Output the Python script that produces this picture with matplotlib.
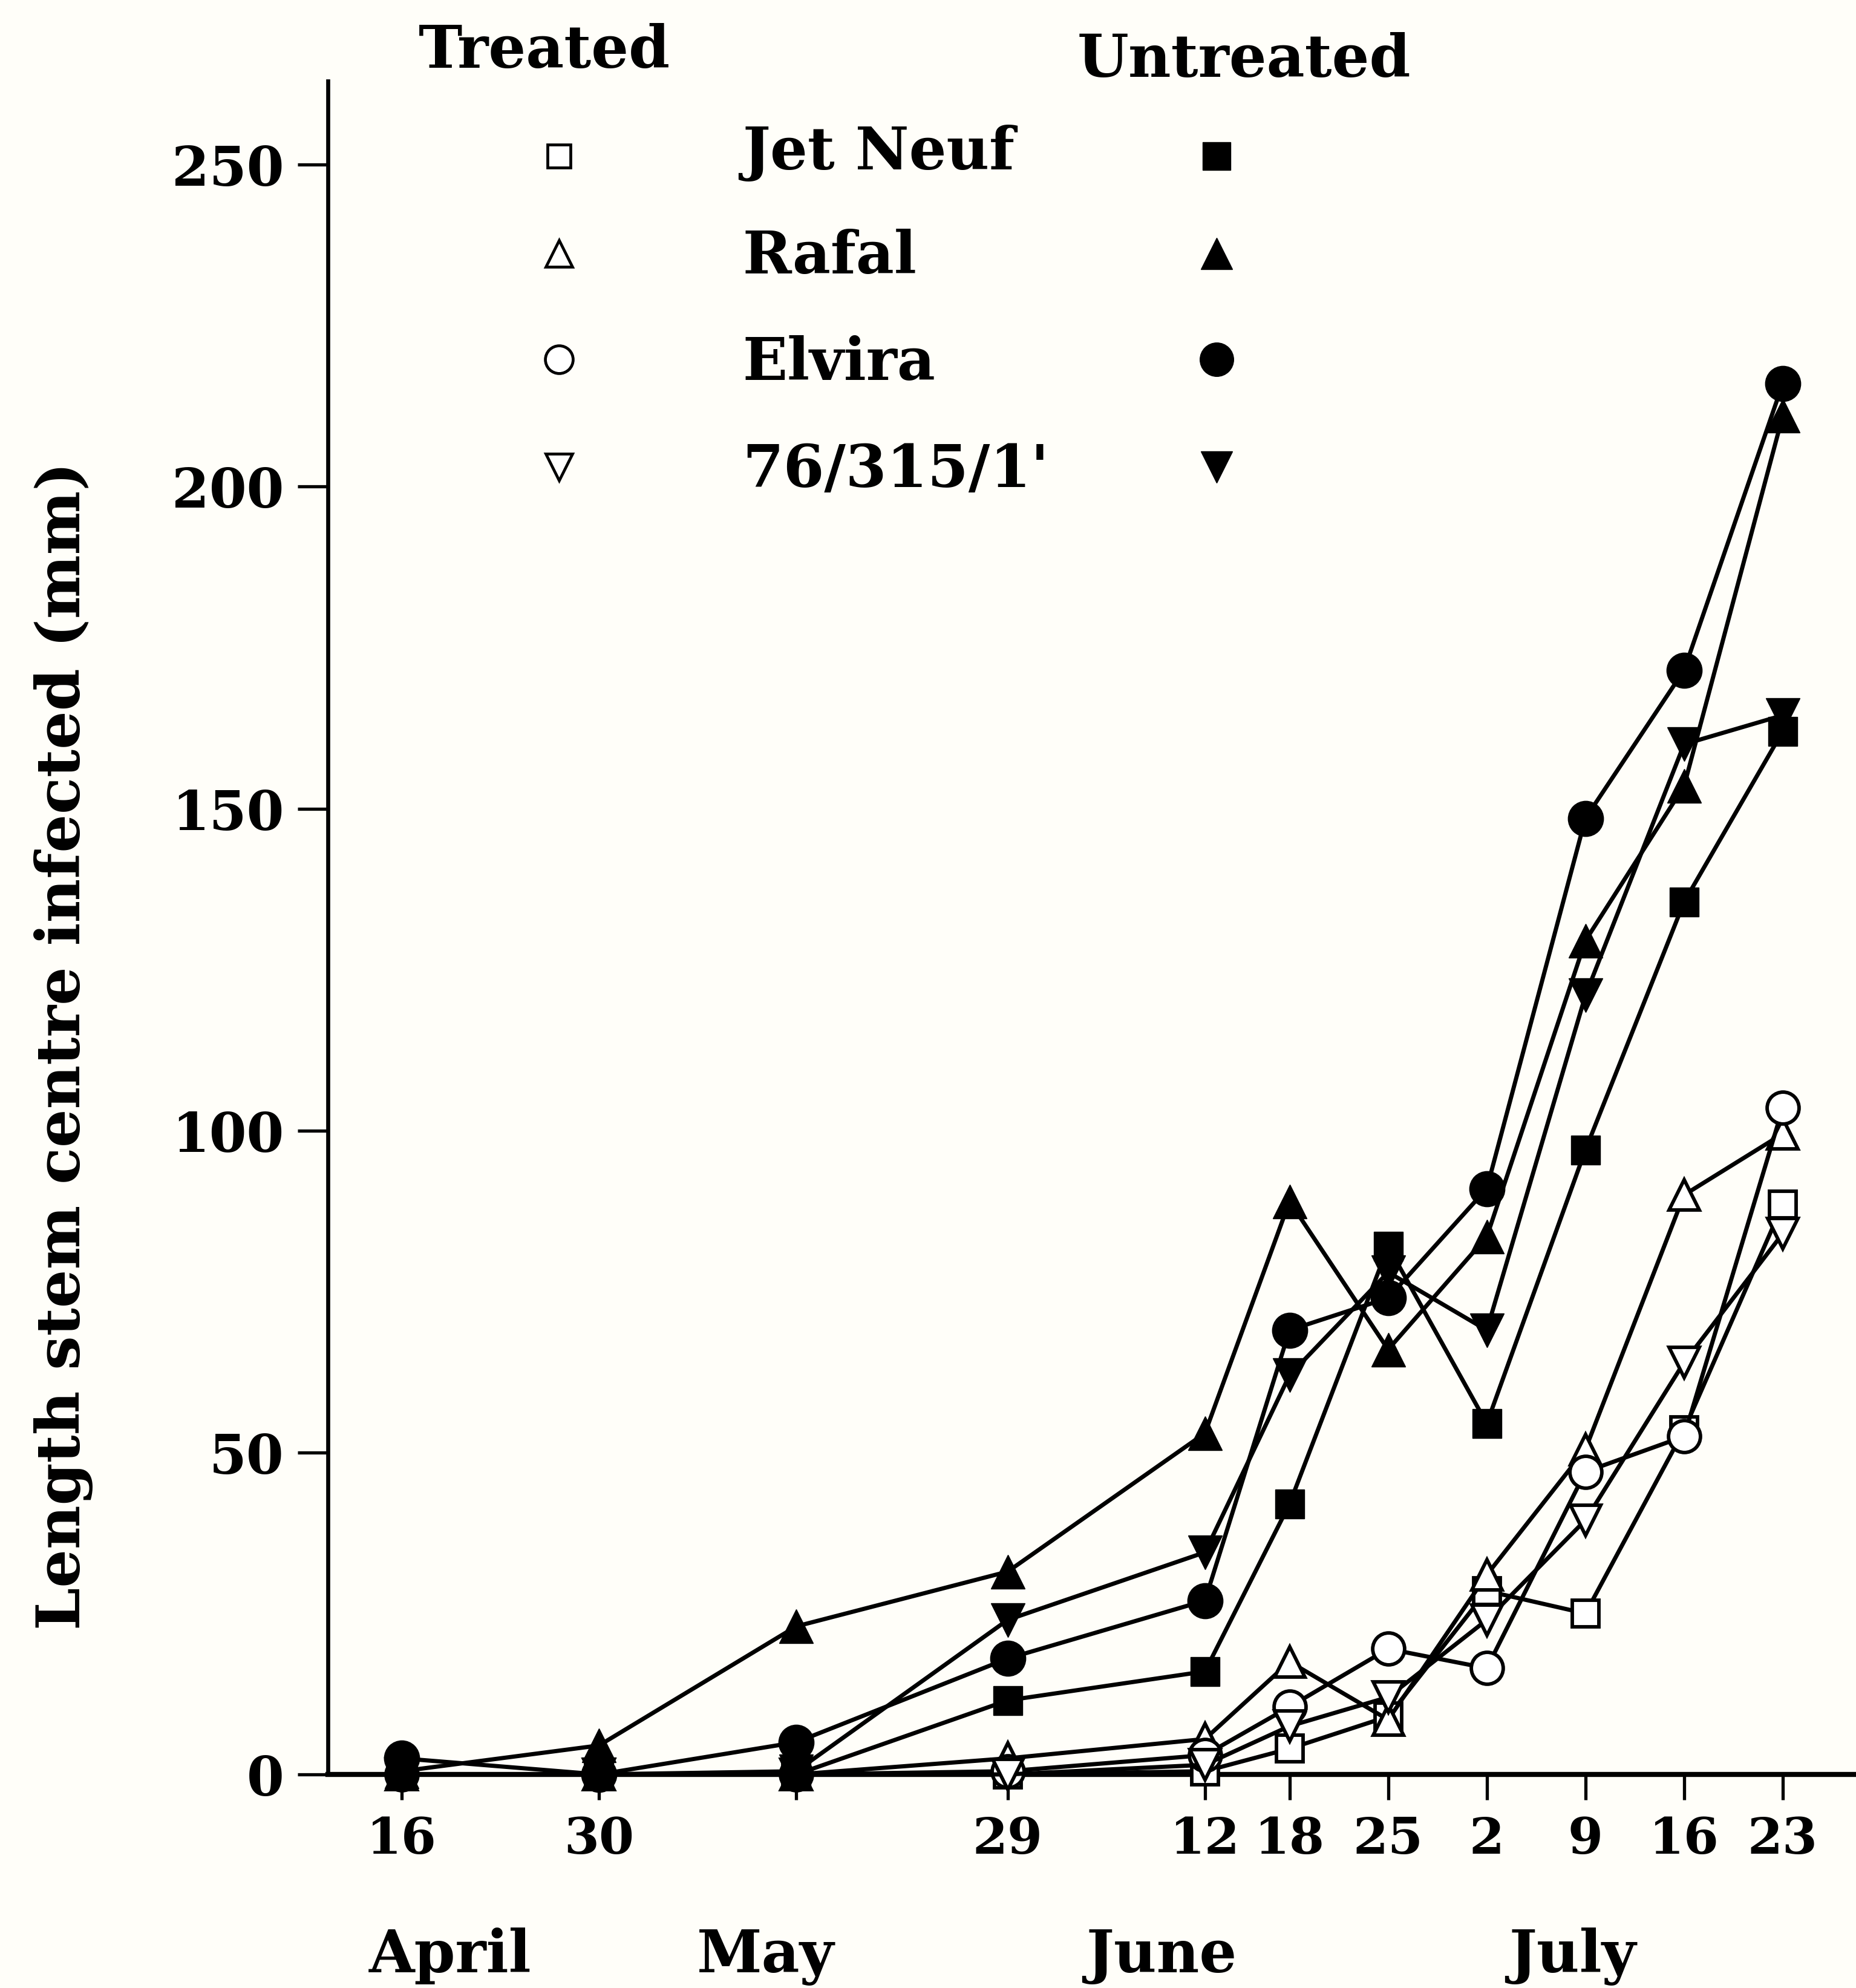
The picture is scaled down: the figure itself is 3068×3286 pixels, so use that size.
import matplotlib
matplotlib.use("Agg")
import matplotlib.pyplot as plt
import pandas as pd

# ---- data -----------------------------------------------------------------
sample_dates = ["1981-04-16", "1981-04-30", "1981-05-14", "1981-05-29",
                "1981-06-12", "1981-06-18", "1981-06-25", "1981-07-02",
                "1981-07-09", "1981-07-16", "1981-07-23"]
date_tick_labels = ["16", "30", "", "29", "12", "18", "25", "2", "9", "16", "23"]
month_names = ["April", "May", "June", "July"]

varieties = ["Jet Neuf", "Rafal", "Elvira", "76/315/1'"]

# length of stem centre infected (mm), untreated plots
untreated_jet_neuf = [0, 0, 0, 11.5, 16, 42, 82, 54.5, 97, 135.5, 162]
untreated_rafal = [0.5, 4.5, 23, 31.5, 53, 89, 66, 83.5, 129.5, 153.5, 211]
untreated_elvira = [2.5, 0, 5, 18, 27, 69, 74, 91, 148.5, 171.5, 216]
untreated_76_315 = [0, 0, 0.5, 24, 34.5, 62, 78, 69, 121, 160, 164.5]

# length of stem centre infected (mm), treated plots
treated_jet_neuf = [0, 0, 0, 0, 0.5, 4, 9, 28.5, 25, 53.5, 88.5]
treated_rafal = [0, 0, 0, 2.5, 5.5, 17.5, 8.5, 31, 50.5, 90, 99.5]
treated_elvira = [0, 0, 0, 0.5, 3, 10.5, 19.5, 16.5, 47, 52.5, 103.5]
treated_76_315 = [0, 0, 0, 0, 1.5, 7.5, 12, 24, 39.5, 64, 84]

untreated = [untreated_jet_neuf, untreated_rafal, untreated_elvira, untreated_76_315]
treated = [treated_jet_neuf, treated_rafal, treated_elvira, treated_76_315]

# ---- styling --------------------------------------------------------------
W, H = 3068, 3287
BG = "#fffef9"
INK = "black"
plt.rcParams["font.family"] = ["DejaVu Serif"]
plt.rcParams["font.weight"] = "bold"

markers = ["s", "^", "o", "v"]
filled_size = {"s": 35, "^": 40, "o": 42, "v": 40}
open_size = {"s": 32, "^": 36, "o": 38, "v": 36}
LW = 5.0

day = pd.to_datetime(sample_dates).dayofyear.to_numpy()

fig = plt.figure(figsize=(W / 100, H / 100), dpi=100)
fig.patch.set_facecolor(BG)

ax = fig.add_axes([542 / W, 1 - 2934 / H, 1 - 542 / W, (2934 - 135) / H])
ax.set_facecolor(BG)
ax.set_xlim(100.76, 209.2)
ax.set_ylim(0, 263)

for name in ("top", "right"):
    ax.spines[name].set_visible(False)
ax.spines["left"].set_linewidth(4.8)
ax.spines["bottom"].set_linewidth(6.0)

ax.set_yticks([0, 50, 100, 150, 200, 250])
ax.set_xticks(day)
ax.set_xticklabels(date_tick_labels)
ax.tick_params(axis="y", direction="out", length=36, width=3.8, pad=16,
               labelsize=64, colors=INK)
ax.tick_params(axis="x", direction="out", length=30, width=3.8, pad=18,
               labelsize=60, colors=INK)
for lab in ax.get_xticklabels() + ax.get_yticklabels():
    lab.set_fontweight("bold")

# treated series: open markers
for vals, m in zip(treated, markers):
    ax.plot(day, vals, color=INK, lw=LW, marker=m, ms=open_size[m],
            mfc="white", mec=INK, mew=4.2, clip_on=False, zorder=3)

# untreated series: filled markers
for vals, m in zip(untreated, markers):
    ax.plot(day, vals, color=INK, lw=LW, marker=m, ms=filled_size[m],
            mfc=INK, mec=INK, mew=1, clip_on=False, zorder=4)

# ---- overlay for key and month labels (figure pixel units) ----------------
lay = fig.add_axes([0, 0, 1, 1])
lay.set_xlim(0, W)
lay.set_ylim(H, 0)
lay.axis("off")
lay.patch.set_visible(False)

lay.text(900, 112, "Treated", ha="center", va="baseline", fontsize=70,
         fontweight="bold", color=INK)
lay.text(2056, 127, "Untreated", ha="center", va="baseline", fontsize=70,
         fontweight="bold", color=INK)

row_marker_y = [259, 420, 595, 773]
row_text_base = [280, 452, 628, 805]
for name, m, my, ty in zip(varieties, markers, row_marker_y, row_text_base):
    lay.plot([924], [my], marker=m, ms=open_size[m] - 5, mfc="white", mec=INK,
             mew=3.4, ls="none")
    lay.text(1227, ty, name, ha="left", va="baseline", fontsize=70,
             fontweight="bold", color=INK)
    lay.plot([2011], [my], marker=m, ms=filled_size[m] - 2, mfc=INK, mec=INK,
             mew=1, ls="none")

month_x = [744, 1266, 1920, 2599]
for name, mx in zip(month_names, month_x):
    lay.text(mx, 3260, name, ha="center", va="baseline", fontsize=70,
             fontweight="bold", color=INK)

lay.text(105, 1729, "Length stem centre infected (mm)", rotation=90,
         ha="center", va="center", fontsize=72, fontweight="bold", color=INK)

fig.savefig("out.png", dpi=100, facecolor=BG)
